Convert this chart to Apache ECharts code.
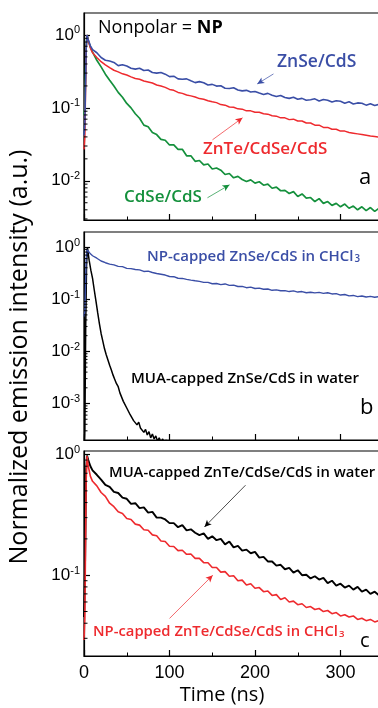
<!DOCTYPE html>
<html><head><meta charset="utf-8">
<script src="https://cdn.jsdelivr.net/npm/echarts@6/dist/echarts.min.js"></script>
<style>html,body{margin:0;padding:0;background:#fff}#c{width:378px;height:708px}</style>
</head><body><div id="c"></div>
<script>
// time axis (ns)
const T = [0,1,2.5,3.5,5,7.5,
  10,15,20,25,30,35,40,45,50,55,
  60,65,70,75,80,85,90,95,100,105,
  110,115,120,125,130,135,140,145,150,155,
  160,165,170,175,180,185,190,195,200,205,
  210,215,220,225,230,235,240,245,250,255,
  260,265,270,275,280,285,290,295,300,305,
  310,315,320,325,330,335,340,345];
const TB = [0,1,2,3,4,5,6,8,10,12,14,16,18,20,22,24,26,28,30,32,34,36,38,40,42,44,46,48,50,
  52,54,56,58,60,62,64,66,68,70,72,74,76,78,80,82,84,86,88,90,92,94,96,98];

// panel a
const aZnSe = [0.042,0.06,0.62,1.0,0.86,0.71,
  0.63,0.57,0.49,0.45,0.44,0.42,0.38,0.39,0.375,0.35,
  0.34,0.35,0.325,0.33,0.305,0.30,0.305,0.29,0.268,0.272,
  0.25,0.247,0.25,0.235,0.222,0.229,0.221,0.206,0.21,0.199,
  0.201,0.186,0.184,0.189,0.176,0.171,0.174,0.165,0.168,0.16,
  0.153,0.158,0.149,0.143,0.148,0.139,0.135,0.14,0.131,0.135,
  0.127,0.129,0.133,0.124,0.13,0.127,0.12,0.125,0.123,0.116,
  0.121,0.113,0.117,0.116,0.109,0.114,0.108,0.112];
const aZnTe = [0.027,0.04,0.6,1.0,0.84,0.66,
  0.57,0.49,0.43,0.39,0.356,0.328,0.312,0.293,0.282,0.266,
  0.253,0.247,0.234,0.227,0.219,0.206,0.2,0.191,0.179,0.174,
  0.163,0.158,0.15,0.146,0.141,0.134,0.131,0.125,0.121,0.118,
  0.111,0.109,0.103,0.102,0.097,0.096,0.091,0.091,0.087,0.087,
  0.083,0.082,0.078,0.077,0.073,0.073,0.069,0.07,0.066,0.066,
  0.062,0.062,0.058,0.058,0.054,0.054,0.051,0.051,0.048,0.048,
  0.046,0.045,0.044,0.043,0.042,0.041,0.0405,0.0395];
const aCdSe = [0.08,0.1,0.7,1.0,0.84,0.68,
  0.58,0.45,0.365,0.29,0.24,0.2,0.163,0.14,0.115,0.1,
  0.083,0.072,0.058,0.055,0.046,0.043,0.037,0.036,0.031,0.031,
  0.027,0.027,0.022,0.022,0.0185,0.019,0.0165,0.017,0.0145,0.015,
  0.014,0.0122,0.0126,0.011,0.0115,0.0104,0.0098,0.0103,0.0093,0.0097,
  0.0087,0.009,0.0079,0.0082,0.0073,0.0074,0.0067,0.0071,0.0061,0.0066,
  0.0058,0.0059,0.0052,0.0057,0.0049,0.0052,0.0046,0.0049,0.0044,0.0048,
  0.0042,0.0045,0.004,0.0044,0.0039,0.0043,0.0038,0.0042];

// panel b
const bNP = [0.047,0.06,0.55,0.9,0.88,0.74,
  0.68,0.61,0.54,0.5,0.47,0.455,0.425,0.42,0.39,0.385,
  0.37,0.365,0.34,0.345,0.325,0.31,0.3,0.29,0.272,0.27,
  0.252,0.25,0.24,0.232,0.225,0.22,0.21,0.21,0.198,0.2,
  0.19,0.196,0.184,0.186,0.175,0.176,0.166,0.17,0.16,0.163,
  0.155,0.157,0.148,0.151,0.145,0.146,0.14,0.144,0.137,0.14,
  0.133,0.136,0.132,0.135,0.129,0.133,0.126,0.128,0.12,0.123,
  0.116,0.118,0.112,0.115,0.11,0.113,0.109,0.112];
const bMUA = [0.00012,0.0003,0.03,0.45,1.0,0.74,0.56,0.36,0.25,0.15,0.092,0.055,0.034,0.022,0.0157,
  0.0112,0.0086,0.0068,0.0054,0.0044,0.0035,0.0029,0.0024,0.0021,0.0016,0.0015,0.0011,0.00105,
  0.00082,0.00078,0.00061,0.00062,0.00047,0.0005,0.00039,0.00044,0.00034,0.00037,0.00028,0.00032,
  0.00025,0.00029,0.00022,0.00026,0.00021,0.00024,0.00019,0.00022,0.00018,0.00021,0.00017,0.0002,0.00017];

// panel c
const cMUA = [0.045,0.09,0.75,0.98,0.9,0.8,
  0.74,0.68,0.62,0.56,0.54,0.49,0.48,0.44,0.43,0.39,
  0.395,0.36,0.365,0.33,0.335,0.3,0.3,0.29,0.27,0.27,
  0.25,0.26,0.235,0.24,0.225,0.215,0.222,0.2,0.21,0.195,
  0.2,0.18,0.19,0.17,0.175,0.16,0.163,0.152,0.156,0.14,
  0.142,0.13,0.13,0.12,0.122,0.112,0.115,0.105,0.11,0.1,
  0.101,0.094,0.098,0.092,0.095,0.086,0.09,0.082,0.085,0.079,
  0.082,0.076,0.08,0.073,0.076,0.07,0.073,0.068];
const cNP = [0.029,0.045,0.6,0.97,0.8,0.66,
  0.6,0.55,0.485,0.45,0.395,0.37,0.335,0.325,0.295,0.29,
  0.265,0.26,0.238,0.236,0.216,0.212,0.192,0.19,0.174,0.173,
  0.16,0.161,0.149,0.15,0.138,0.138,0.127,0.127,0.116,0.116,
  0.106,0.107,0.098,0.099,0.09,0.091,0.083,0.085,0.078,0.079,
  0.073,0.074,0.068,0.069,0.063,0.065,0.06,0.061,0.057,0.058,
  0.054,0.055,0.052,0.053,0.05,0.051,0.048,0.049,0.046,0.047,
  0.045,0.046,0.043,0.044,0.042,0.043,0.041,0.042];

// log minor tick values
const minorA = [0.003,0.004,0.005,0.006,0.007,0.008,0.009,0.02,0.03,0.04,0.05,0.06,0.07,0.08,0.09,0.2,0.3,0.4,0.5,0.6,0.7,0.8,0.9];
const minorB = [0.0003,0.0004,0.0005,0.0006,0.0007,0.0008,0.0009,0.002,0.003,0.004,0.005,0.006,0.007,0.008,0.009,0.02,0.03,0.04,0.05,0.06,0.07,0.08,0.09,0.2,0.3,0.4,0.5,0.6,0.7,0.8,0.9];
const minorC = [0.03,0.04,0.05,0.06,0.07,0.08,0.09,0.2,0.3,0.4,0.5,0.6,0.7,0.8,0.9];

const BLUE = '#3a4ea6', RED = '#ee2a2e', GREEN = '#14903c', BLACK = '#000';
const FONT = '"Open Sans", "Noto Sans", sans-serif';
const TICKFONT = '"Liberation Sans", Arial, sans-serif';

const chart = echarts.init(document.getElementById('c'), null, {renderer: 'canvas'});

const zip = (t, v) => t.map((x, i) => [x, v[i]]);

function xAx(idx, labels) {
  return {
    type: 'value', gridIndex: idx, min: 0, max: 400, interval: 100,
    axisLine: {show: true, lineStyle: {color: '#000', width: 1.2}},
    axisTick: {show: true, inside: true, length: 6, lineStyle: {color: '#000', width: 1.2}},
    minorTick: {show: true, splitNumber: 2, length: 3.5, lineStyle: {color: '#000', width: 1}},
    splitLine: {show: false},
    axisLabel: {show: labels, fontFamily: TICKFONT, fontSize: 18, color: '#000', margin: 8, showMaxLabel: false}
  };
}
function yAx(idx, min, max) {
  return {
    type: 'log', logBase: 10, gridIndex: idx, min: min, max: max,
    axisLine: {show: true, lineStyle: {color: '#000', width: 1.2}},
    axisTick: {show: true, inside: true, length: 6, lineStyle: {color: '#000', width: 1.2}},
    splitLine: {show: false},
    axisLabel: {
      margin: 4, showMinLabel: false, showMaxLabel: false,
      formatter: function (v) {
        const l = Math.log10(v), e = Math.round(l);
        if (Math.abs(l - e) > 1e-6) return '';
        return '{b|10}{s|' + e + '}';
      },
      rich: {
        b: {fontFamily: TICKFONT, fontSize: 17, color: '#000', lineHeight: 20},
        s: {fontFamily: TICKFONT, fontSize: 11, color: '#000', lineHeight: 11, verticalAlign: 'top'}
      }
    }
  };
}
function minorSeries(idx, vals) {
  return {
    type: 'custom', xAxisIndex: idx, yAxisIndex: idx, silent: true, z: 5,
    data: vals.map(v => [0, v]),
    renderItem: function (params, api) {
      const p = api.coord([api.value(0), api.value(1)]);
      return {type: 'line', shape: {x1: p[0], y1: p[1], x2: p[0] + 3.5, y2: p[1]},
        style: {stroke: '#000', lineWidth: 1}};
    }
  };
}
function line(idx, t, v, color, width, arrow) {
  const s = {
    type: 'line', xAxisIndex: idx, yAxisIndex: idx, data: zip(t, v),
    showSymbol: false, symbol: 'none', lineStyle: {color: color, width: width}, itemStyle: {color: color},
    clip: true, silent: true
  };
  if (arrow) {
    s.markLine = {
      silent: true, symbol: ['none', 'arrow'], symbolSize: [5, 7],
      lineStyle: {color: color, width: 0.7, type: 'solid'}, label: {show: false},
      data: [[{coord: arrow[0]}, {coord: arrow[1]}]]
    };
  }
  return s;
}
function txt(x, y, text, color, size, weight, rich, extra) {
  const o = {
    type: 'text', x: x, y: y, silent: true, z: 100,
    style: Object.assign({text: text, fill: color, fontFamily: FONT, fontSize: size, fontWeight: weight,
      textAlign: 'left', textVerticalAlign: 'middle'}, rich ? {rich: rich} : {})
  };
  return Object.assign(o, extra || {});
}
const subRich = (color, size) => ({sub: {fontFamily: FONT, fontSize: size * 0.65, fontWeight: 600, fill: color, color: color,
  verticalAlign: 'bottom', lineHeight: size * 0.65, padding: [0, 0, 0, 1]}});

const gridBase = {left: 84, width: 342, show: true, borderColor: '#000', borderWidth: 1.2,
  containLabel: false, outerBoundsMode: 'none'};
const option = {
  animation: false,
  backgroundColor: '#fff',
  grid: [
    Object.assign({top: 13, height: 207}, gridBase),
    Object.assign({top: 232, height: 208}, gridBase),
    Object.assign({top: 451, height: 205}, gridBase)
  ],
  xAxis: [xAx(0, false), xAx(1, false), xAx(2, true)],
  yAxis: [yAx(0, 0.0029, 2), yAx(1, 0.0002, 1.94), yAx(2, 0.0214, 1.07)],
  series: [
    line(0, T, aCdSe, GREEN, 1.7, [[144.4, 0.00585], [170.2, 0.0088]]),
    line(0, T, aZnTe, RED, 1.5, [[150.3, 0.0365], [185.4, 0.073]]),
    line(0, T, aZnSe, BLUE, 1.6, [[221.6, 0.292], [202.6, 0.213]]),
    line(1, TB, bMUA, BLACK, 1.5),
    line(1, T, bNP, BLUE, 1.4),
    line(2, T, cMUA, BLACK, 1.9, [[188.9, 0.557], [140.9, 0.251]]),
    line(2, T, cNP, RED, 1.6, [[100, 0.0438], [150.6, 0.1]]),
    minorSeries(0, minorA), minorSeries(1, minorB), minorSeries(2, minorC)
  ],
  graphic: [
    txt(98, 28, 'Nonpolar = {nb|NP}', '#000', 18, 400, {nb: {fontFamily: FONT, fontSize: 18, fontWeight: 700, fill: '#000', color: '#000'}}),
    txt(277, 62, 'ZnSe/CdS', BLUE, 17.5, 600),
    txt(203, 149, 'ZnTe/CdSe/CdS', RED, 17, 600),
    txt(124, 197, 'CdSe/CdS', GREEN, 17, 600),
    txt(359, 178, 'a', '#000', 22, 400),
    txt(147, 257, 'NP-capped ZnSe/CdS in CHCl{sub|3}', BLUE, 15, 600, subRich(BLUE, 15)),
    txt(131, 379, 'MUA-capped ZnSe/CdS in water', BLACK, 15, 600),
    txt(360, 408, 'b', '#000', 22, 400),
    txt(109, 473, 'MUA-capped ZnTe/CdSe/CdS in water', BLACK, 14.8, 600),
    txt(93, 632, 'NP-capped ZnTe/CdSe/CdS in CHCl{sub|3}', RED, 14.8, 600, subRich(RED, 14.8)),
    txt(360, 641, 'c', '#000', 20, 400),
    txt(222, 695, 'Time (ns)', '#000', 20, 400),
    txt(20, 357, 'Normalized emission intensity (a.u.)', '#000', 25, 400, null, {rotation: Math.PI / 2})
  ]
};
option.graphic[11].style.textAlign = 'center';
option.graphic[12].style.textAlign = 'center';
chart.setOption(option);
</script>
</body></html>
